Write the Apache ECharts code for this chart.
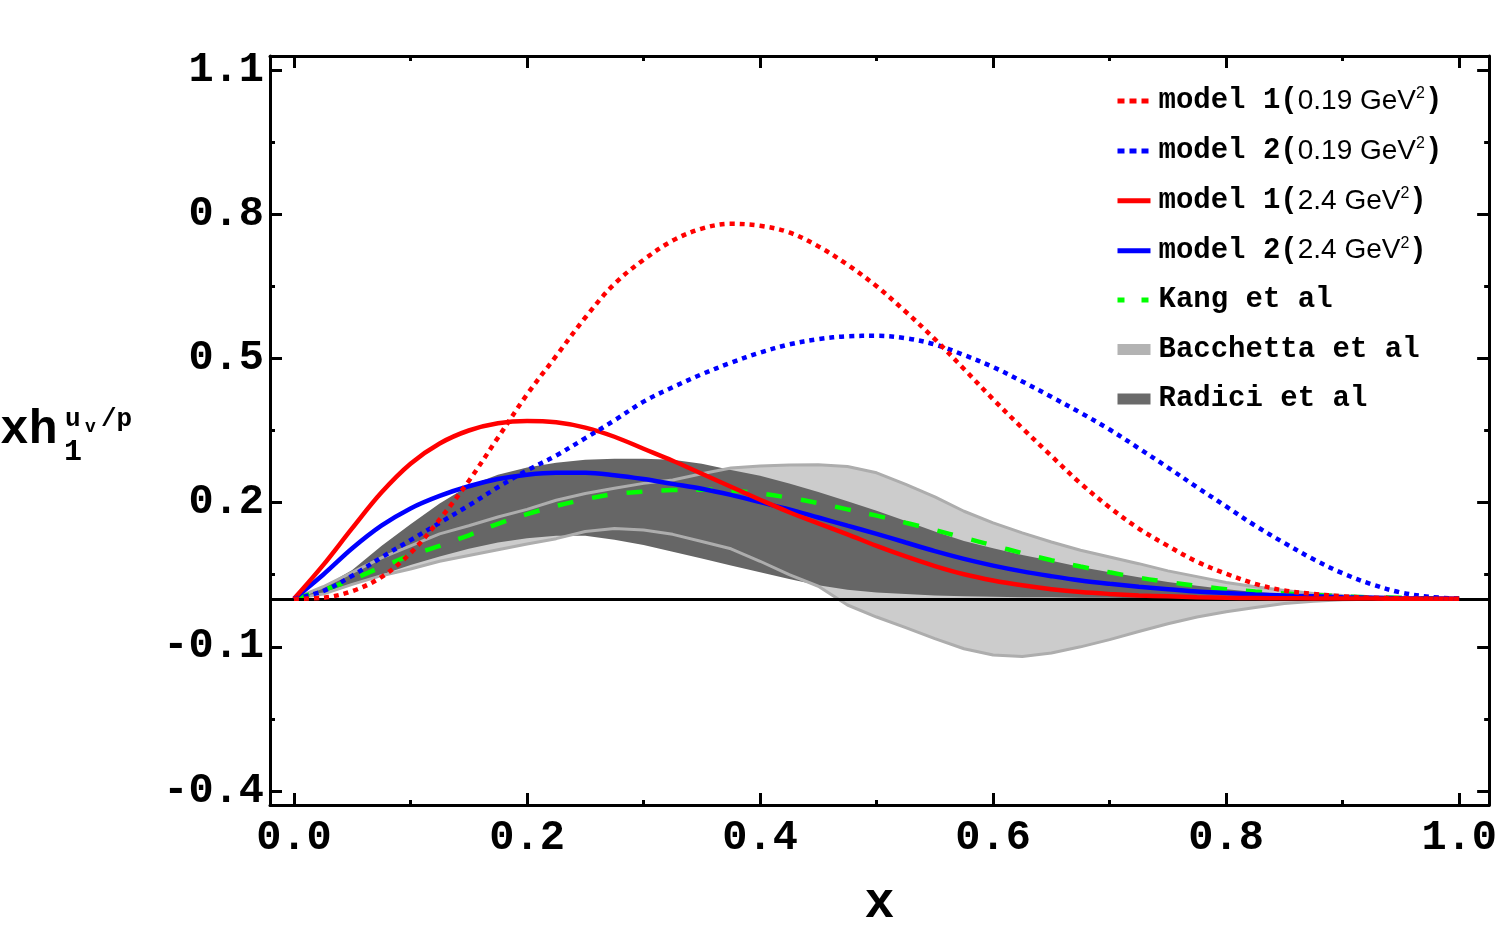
<!DOCTYPE html>
<html>
<head>
<meta charset="utf-8">
<title>xh1 u_v/p</title>
<script src="https://cdn.jsdelivr.net/npm/echarts@6.0.0/dist/echarts.min.js"></script>
<style>
  html, body { margin: 0; padding: 0; background: #fff; }
  #chart { width: 1500px; height: 937px; }
</style>
</head>
<body>
<div id="chart"></div>
<script>
// x grid shared by all curves
const xs = [0, 0.025, 0.05, 0.075, 0.1, 0.125, 0.15, 0.175, 0.2, 0.225, 0.25, 0.275, 0.3, 0.325, 0.35, 0.375, 0.4, 0.425, 0.45, 0.475, 0.5,
  0.525, 0.55, 0.575, 0.6, 0.625, 0.65, 0.675, 0.7, 0.725, 0.75, 0.775, 0.8, 0.825, 0.85, 0.875, 0.9, 0.925, 0.95, 0.975, 1];

const model1Low = [0, 0.002, 0.016, 0.045, 0.095, 0.165, 0.245, 0.335, 0.425, 0.505, 0.585, 0.655, 0.705, 0.745, 0.77, 0.78, 0.776, 0.762, 0.733, 0.695, 0.65,
  0.597, 0.54, 0.478, 0.415, 0.355, 0.297, 0.24, 0.19, 0.146, 0.11, 0.077, 0.052, 0.031, 0.017, 0.01, 0.005, 0.002, 0.001, 0.0003, 0];
const model2Low = [0, 0.016, 0.048, 0.086, 0.122, 0.158, 0.194, 0.232, 0.267, 0.298, 0.334, 0.371, 0.41, 0.44, 0.467, 0.491, 0.512, 0.529, 0.54, 0.546, 0.547,
  0.542, 0.529, 0.507, 0.482, 0.452, 0.42, 0.387, 0.352, 0.313, 0.273, 0.232, 0.192, 0.152, 0.116, 0.082, 0.053, 0.03, 0.013, 0.004, 0];
const model1High = [0, 0.07, 0.147, 0.221, 0.281, 0.323, 0.35, 0.365, 0.37, 0.367, 0.356, 0.337, 0.312, 0.287, 0.26, 0.233, 0.206, 0.18, 0.157, 0.134, 0.11,
  0.088, 0.068, 0.051, 0.038, 0.028, 0.02, 0.014, 0.01, 0.007, 0.005, 0.003, 0.002, 0.0015, 0.001, 0.0007, 0.0005, 0.0003, 0.0002, 0.0001, 0];
const model2High = [0, 0.05, 0.105, 0.152, 0.188, 0.214, 0.234, 0.249, 0.258, 0.262, 0.262, 0.257, 0.249, 0.239, 0.229, 0.216, 0.201, 0.186, 0.169, 0.152, 0.135,
  0.117, 0.099, 0.083, 0.069, 0.057, 0.047, 0.038, 0.031, 0.025, 0.02, 0.015, 0.012, 0.009, 0.007, 0.005, 0.003, 0.002, 0.001, 0.0005, 0];
const kang = [0, 0.018, 0.04, 0.066, 0.09, 0.11, 0.132, 0.156, 0.176, 0.193, 0.207, 0.218, 0.223, 0.226, 0.227, 0.225, 0.219, 0.21, 0.199, 0.186, 0.173,
  0.158, 0.143, 0.127, 0.111, 0.095, 0.08, 0.067, 0.055, 0.044, 0.035, 0.027, 0.02, 0.015, 0.011, 0.008, 0.005, 0.003, 0.002, 0.001, 0];

const radiciUp = [0, 0.025, 0.06, 0.11, 0.155, 0.198, 0.235, 0.258, 0.273, 0.283, 0.289, 0.291, 0.291, 0.289, 0.281, 0.268, 0.256, 0.24, 0.222, 0.203, 0.183,
  0.162, 0.14, 0.12, 0.105, 0.091, 0.079, 0.066, 0.055, 0.045, 0.035, 0.027, 0.02, 0.014, 0.01, 0.007, 0.004, 0.002, 0.001, 0.0005, 0];
const radiciLow = [0, 0.012, 0.03, 0.05, 0.07, 0.088, 0.104, 0.117, 0.126, 0.131, 0.131, 0.123, 0.112, 0.098, 0.084, 0.069, 0.055, 0.041, 0.028, 0.019, 0.013,
  0.01, 0.007, 0.005, 0.004, 0.003, 0.003, 0.002, 0.002, 0.001, 0.001, 0.001, 0.001, 0.0005, 0.0005, 0.0003, 0.0002, 0.0001, 0, 0, 0];
const bacchettaUp = [0, 0.025, 0.055, 0.085, 0.11, 0.135, 0.152, 0.17, 0.186, 0.205, 0.219, 0.23, 0.24, 0.247, 0.26, 0.272, 0.276, 0.278, 0.279, 0.275, 0.262,
  0.238, 0.212, 0.182, 0.158, 0.137, 0.118, 0.101, 0.087, 0.073, 0.058, 0.046, 0.034, 0.025, 0.017, 0.011, 0.007, 0.004, 0.002, 0.001, 0];
const bacchettaLow = [0, 0.01, 0.03, 0.048, 0.062, 0.078, 0.09, 0.102, 0.114, 0.125, 0.14, 0.146, 0.143, 0.134, 0.119, 0.104, 0.078, 0.05, 0.026, -0.013, -0.038,
  -0.06, -0.083, -0.104, -0.117, -0.12, -0.113, -0.1, -0.085, -0.068, -0.052, -0.038, -0.027, -0.018, -0.01, -0.005, -0.002, -0.001, 0, 0, 0];

const xMajor = [0, 0.2, 0.4, 0.6, 0.8, 1.0];
const xMinor = [0.1, 0.3, 0.5, 0.7, 0.9];
const yMajor = [-0.4, -0.1, 0.2, 0.5, 0.8, 1.1];
const yMinor = [-0.25, 0.05, 0.35, 0.65, 0.95];

const legendNames = ['model 1 (0.19 GeV²)', 'model 2 (0.19 GeV²)', 'model 1 (2.4 GeV²)', 'model 2 (2.4 GeV²)',
  'Kang et al', 'Bacchetta et al', 'Radici et al'];

const X_MIN = -0.0206, X_MAX = 1.0257, Y_MIN = -0.429, Y_MAX = 1.129;
const MONO = '"Liberation Mono", "DejaVu Sans Mono", monospace';
const SANS = '"Liberation Sans", Arial, sans-serif';
const LW = 4.5;

const chart = echarts.init(document.getElementById('chart'));

function pairs(ys) {
  return xs.map((x, i) => [x, ys[i]]);
}

function bandItem(upper, lower, fill) {
  return function (params, api) {
    const points = [];
    for (let i = 0; i < xs.length; i++) points.push(api.coord([xs[i], upper[i]]));
    for (let i = xs.length - 1; i >= 0; i--) points.push(api.coord([xs[i], lower[i]]));
    return { type: 'polygon', shape: { points }, style: { fill } };
  };
}

function axis(dim, position, ticks, length, withLine, label) {
  const isX = dim === 'x';
  return {
    type: 'value',
    position,
    min: isX ? X_MIN : Y_MIN,
    max: isX ? X_MAX : Y_MAX,
    axisLine: { show: withLine, onZero: false, lineStyle: { color: '#000', width: 3 } },
    axisTick: { show: true, inside: true, length, customValues: ticks, lineStyle: { color: '#000', width: 3 } },
    axisLabel: label
      ? {
          customValues: ticks,
          formatter: (v) => v.toFixed(1),
          fontFamily: MONO,
          fontWeight: 'bold',
          fontSize: 42,
          color: '#000',
          margin: isX ? 12 : 6,
        }
      : { show: false },
    splitLine: { show: false },
  };
}

function curve(name, ys, color, type, z) {
  return {
    name,
    type: 'line',
    data: pairs(ys),
    smooth: 0.35,
    symbol: 'none',
    z,
    lineStyle: { color, width: LW, type, cap: 'butt' },
    itemStyle: { color },
  };
}

const labelRich = {
  m: { fontFamily: MONO, fontWeight: 'bold', fontSize: 29, lineHeight: 30, color: '#000' },
  s: { fontFamily: SANS, fontSize: 28, lineHeight: 30, color: '#000' },
  sup: { fontFamily: SANS, fontSize: 16, lineHeight: 30, verticalAlign: 'top', color: '#000' },
};
const legendText = {
  'model 1 (0.19 GeV²)': '{m|model 1(}{s|0.19 GeV}{sup|2}{m|)}',
  'model 2 (0.19 GeV²)': '{m|model 2(}{s|0.19 GeV}{sup|2}{m|)}',
  'model 1 (2.4 GeV²)': '{m|model 1(}{s|2.4 GeV}{sup|2}{m|)}',
  'model 2 (2.4 GeV²)': '{m|model 2(}{s|2.4 GeV}{sup|2}{m|)}',
  'Kang et al': '{m|Kang et al}',
  'Bacchetta et al': '{m|Bacchetta et al}',
  'Radici et al': '{m|Radici et al}',
};

const xMain = axis('x', 'bottom', xMajor, 12, true, true);
xMain.name = 'x';
xMain.nameLocation = 'middle';
xMain.nameGap = 74;
xMain.nameTextStyle = { fontFamily: MONO, fontWeight: 'bold', fontSize: 50, color: '#000' };

const hideSymbol = { opacity: 0 };

chart.setOption({
  animation: false,
  backgroundColor: '#fff',
  grid: { left: 270, right: 10, top: 56, bottom: 132, containLabel: false },
  xAxis: [
    xMain,
    axis('x', 'bottom', xMinor, 5, false, false),
    axis('x', 'top', xMajor, 12, true, false),
    axis('x', 'top', xMinor, 5, false, false),
  ],
  yAxis: [
    axis('y', 'left', yMajor, 12, true, true),
    axis('y', 'left', yMinor, 5, false, false),
    axis('y', 'right', yMajor, 12, true, false),
    axis('y', 'right', yMinor, 5, false, false),
  ],
  legend: {
    orient: 'vertical',
    left: 1110,
    top: 81,
    itemWidth: 33,
    itemHeight: 11,
    itemGap: 20.4,
    selectedMode: false,
    data: [
      { name: legendNames[0], itemStyle: hideSymbol, lineStyle: { type: [7, 5], width: 5 } },
      { name: legendNames[1], itemStyle: hideSymbol, lineStyle: { type: [7, 5], width: 5 } },
      { name: legendNames[2], itemStyle: hideSymbol, lineStyle: { width: 5 } },
      { name: legendNames[3], itemStyle: hideSymbol, lineStyle: { width: 5 } },
      { name: legendNames[4], itemStyle: hideSymbol, lineStyle: { type: [7, 17], width: 5 } },
      { name: legendNames[5], icon: 'rect', itemStyle: { color: '#b3b3b3' } },
      { name: legendNames[6], icon: 'rect', itemStyle: { color: '#6a6a6a' } },
    ],
    formatter: (name) => legendText[name],
    textStyle: { padding: [0, 0, 0, 3], rich: labelRich },
  },
  graphic: [
    { type: 'text', x: 0, y: 431, style: { text: 'xh', font: 'bold 48px ' + MONO, fill: '#000', verticalAlign: 'middle' } },
    { type: 'text', x: 64, y: 452, style: { text: '1', font: 'bold 30px ' + MONO, fill: '#000', verticalAlign: 'middle' } },
    { type: 'text', x: 65, y: 419, style: { text: 'u', font: 'bold 26px ' + MONO, fill: '#000', verticalAlign: 'middle' } },
    { type: 'text', x: 85, y: 427, style: { text: 'v', font: 'bold 18px ' + MONO, fill: '#000', verticalAlign: 'middle' } },
    { type: 'text', x: 101, y: 419, style: { text: '/p', font: 'bold 26px ' + MONO, fill: '#000', verticalAlign: 'middle' } },
  ],
  series: [
    {
      name: 'Bacchetta et al',
      type: 'custom',
      z: 1,
      data: [[0, 0]],
      itemStyle: { color: '#cccccc' },
      renderItem: bandItem(bacchettaUp, bacchettaLow, '#cccccc'),
    },
    {
      name: 'Radici et al',
      type: 'custom',
      z: 2,
      data: [[0, 0]],
      itemStyle: { color: '#666666' },
      renderItem: bandItem(radiciUp, radiciLow, '#666666'),
    },
    {
      type: 'line',
      data: pairs(bacchettaUp),
      symbol: 'none',
      z: 3,
      lineStyle: { color: '#adadad', width: 3 },
    },
    {
      type: 'line',
      data: pairs(bacchettaLow),
      symbol: 'none',
      z: 3,
      lineStyle: { color: '#adadad', width: 3 },
      markLine: {
        silent: true,
        symbol: 'none',
        label: { show: false },
        lineStyle: { color: '#000', width: 3, type: 'solid' },
        data: [{ yAxis: 0 }],
      },
    },
    curve('Kang et al', kang, '#00ff00', [16, 19], 4),
    curve(legendNames[3], model2High, '#0000ff', 'solid', 5),
    curve(legendNames[2], model1High, '#ff0000', 'solid', 5),
    curve(legendNames[1], model2Low, '#0000ff', [5, 5], 5),
    curve(legendNames[0], model1Low, '#ff0000', [5, 5], 5),
  ],
});
</script>
</body>
</html>
